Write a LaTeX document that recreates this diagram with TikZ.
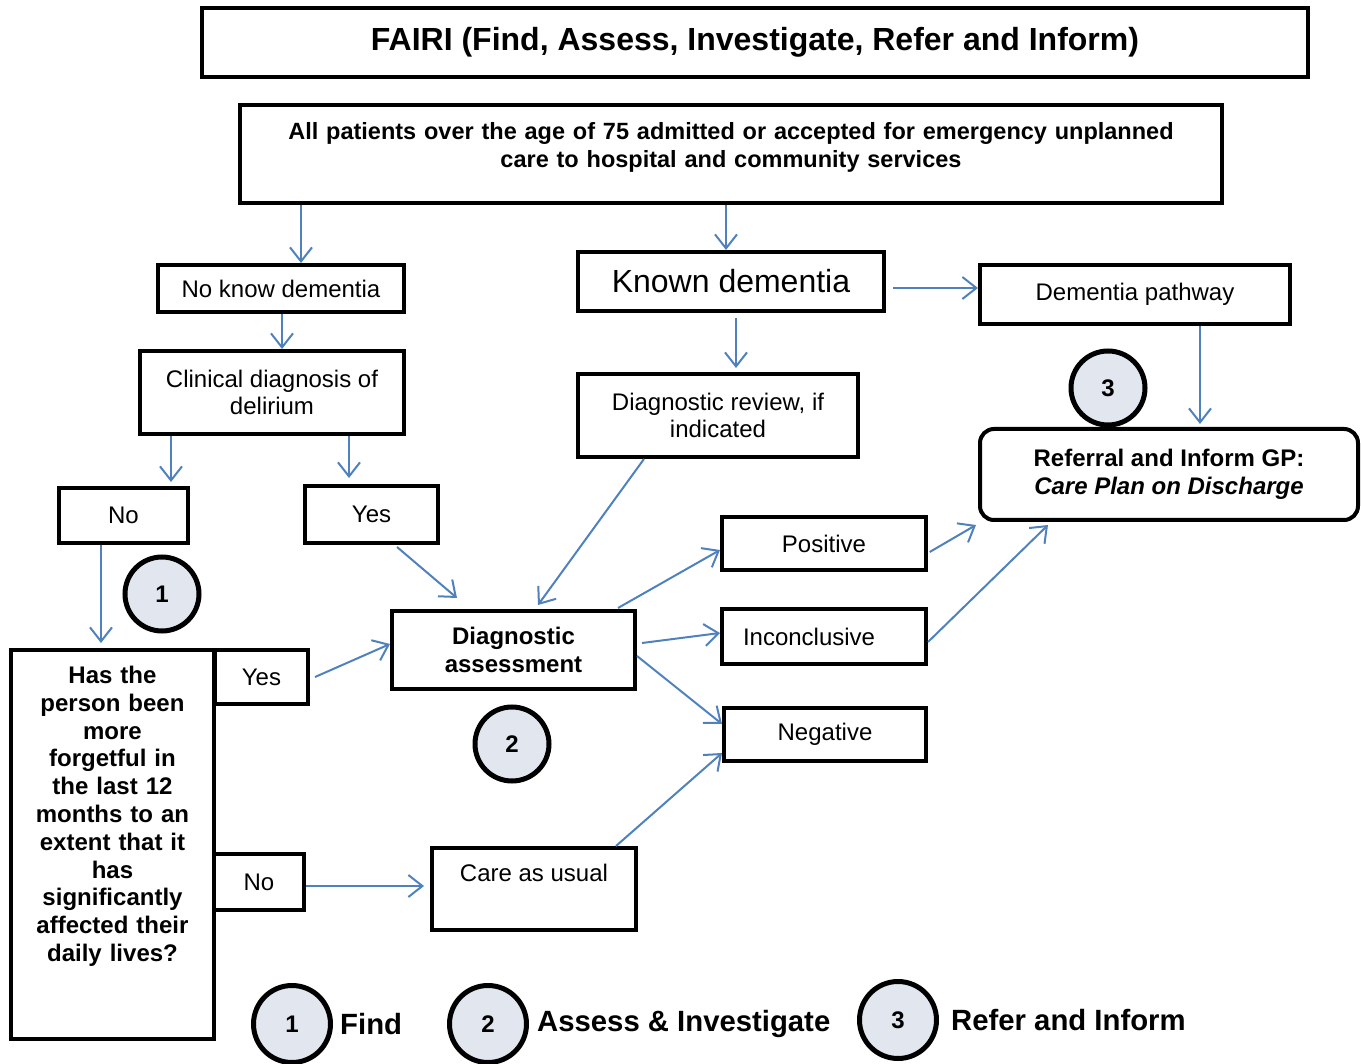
\documentclass[tikz,border=0pt]{standalone}
\usepackage{fontspec}
\setmainfont{Liberation Sans}
\usetikzlibrary{arrows.meta,positioning}
\definecolor{linkblue}{RGB}{79,129,189}
\definecolor{numfill}{RGB}{226,231,239}
\newcommand{\txt}{\fontsize{24}{27.5}\selectfont}
\newcommand{\btxt}{\fontsize{24}{28}\selectfont\bfseries}

\tikzset{
  box/.style={draw, line width=4pt, inner sep=0pt, align=center, font=\txt},
  rbox/.style={box, rounded corners=14pt},
  num/.style={circle, draw, line width=5pt, fill=numfill, minimum size=74pt, inner sep=0pt, font=\btxt},
  link/.style={linkblue, line width=2pt, -{Straight Barb[length=14pt,width=22pt]}},
  legend/.style={inner sep=0pt, font=\fontsize{29.3}{34}\selectfont\bfseries}
}

\begin{document}
\begin{tikzpicture}[x=1pt, y=-1pt]
    \useasboundingbox (0,0) rectangle (1361,1064);

    \node[box, font=\fontsize{32}{38}\selectfont\bfseries, minimum width=1106pt, minimum height=69pt] (fairi) at (755,42.5) {FAIRI (Find, Assess, Investigate, Refer and Inform)};
    \node[box, font=\fontsize{23.5}{28}\selectfont\bfseries, text width=960pt, minimum width=982pt, text height=34.3pt, text depth=63.7pt, anchor=north] (allpat) at (731,103) {All patients over the age of 75 admitted or accepted for emergency unplanned\\ care to hospital and community services};

    \node[box, minimum width=246pt, minimum height=47pt] (noknow) at (281,288.5) {No know dementia};
    \draw[link] ([xshift=20pt]noknow.north |- allpat.south) -- ([xshift=20pt]noknow.north);
    \node[box, font=\fontsize{32}{38}\selectfont, minimum width=306pt, minimum height=59pt] (known) at (731,281.5) {Known dementia};
    \draw[link] ([xshift=-5pt]known.north |- allpat.south) -- ([xshift=-5pt]known.north);
    \node[box, minimum width=310pt, minimum height=59pt] (dpath) at (1135,294.5) {Dementia pathway};
    \draw[link, shorten <=7pt] ([yshift=-6.5pt]known.east) -- ([yshift=-6.5pt]known.east -| dpath.west);

    \node[box, minimum width=264pt, minimum height=83pt] (clin) at (272,392.5) {Clinical diagnosis of\\ delirium};
    \draw[link] ([xshift=10pt]clin.north |- noknow.south) -- ([xshift=10pt]clin.north);
    \node[box, minimum width=280pt, minimum height=83pt] (review) at (718,415.5) {Diagnostic review, if\\ indicated};
    \draw[link, shorten <=5pt, shorten >=4pt] ([xshift=18pt]review.north |- known.south) -- ([xshift=18pt]review.north);
    \node[rbox, font=\btxt, minimum width=378pt, minimum height=91pt] (refer) at (1169,474.5) {Referral and Inform GP:\\ \textit{Care Plan on Discharge}};
    \draw[link, shorten >=3pt] ([xshift=31pt]refer.north |- dpath.south) -- ([xshift=31pt]refer.north);
    \node[num] (n3) at (1108,388) {3};

    \node[box, minimum width=129pt, minimum height=55pt] (no1) at (123.5,515.5) {No};
    \draw[link, shorten >=4pt] ([xshift=47.5pt]no1.north |- clin.south) -- ([xshift=47.5pt]no1.north);
    \node[box, minimum width=133pt, minimum height=57pt] (yes1) at (371.5,514.5) {Yes};
    \draw[link, shorten >=6pt] ([xshift=-22.5pt]yes1.north |- clin.south) -- ([xshift=-22.5pt]yes1.north);
    \node[num] (n1) at (162,594) {1};

    \node[box, font=\fontsize{24}{27.8}\selectfont\bfseries, text width=200pt, minimum width=203pt, text height=33.5pt, text depth=355.5pt, anchor=north] (quest) at (112.5,648) {Has the\\ person been\\ more\\ forgetful in\\ the last 12\\ months to an\\ extent that it\\ has\\ significantly\\ affected their\\ daily lives?};
    \draw[link, shorten >=5pt] ([xshift=-11.5pt]quest.north |- no1.south) -- ([xshift=-11.5pt]quest.north);
    \node[box, minimum width=93pt, minimum height=54pt] (yes2) at (261.5,677) {Yes};
    \node[box, minimum width=90pt, minimum height=56pt] (no2) at (259,882) {No};

    \node[box, font=\btxt, minimum width=243pt, minimum height=78pt] (diag) at (513.5,650) {Diagnostic\\ assessment};
    \draw[link] ([xshift=25.5pt,yshift=-2pt]yes1.south) -- ([xshift=-56.5pt,yshift=11pt]diag.north);
    \draw[link] ([xshift=-74pt]review.south) -- ([xshift=24.5pt,yshift=4pt]diag.north);
    \draw[link] ([xshift=5pt]yes2.east) -- ([yshift=6pt]diag.west);
    \node[num] (n2) at (512,744) {2};

    \node[box, minimum width=204pt, minimum height=53pt] (positive) at (824,543.5) {Positive};
    \node[box, text width=162pt, align=left, minimum width=204pt, minimum height=55pt] (incon) at (824,636.5) {Inconclusive};
    \node[box, minimum width=202pt, minimum height=53pt] (negative) at (825,734.5) {Negative};
    \node[box, minimum width=204pt, text height=33pt, text depth=49pt, anchor=north] (care) at (534,846) {Care as usual};
    \draw[link] ([xshift=-19pt,yshift=1pt]diag.north east) -- ([yshift=-6.5pt]positive.west);
    \draw[link] ([xshift=5pt,yshift=7pt]diag.east) -- ([yshift=3.5pt]incon.west);
    \draw[link] ([yshift=-6pt]diag.east) -- ([yshift=10.5pt]negative.west);
    \draw[link] ([xshift=82pt]care.north) -- ([yshift=-18.5pt]negative.west);
    \draw[link, shorten >=6pt] ([yshift=-4pt]no2.east) -- ([yshift=-4pt]no2.east -| care.west);
    \draw[link, shorten <=2pt] ([yshift=-9.5pt]positive.east) -- ([xshift=-2pt,yshift=-3pt]refer.south west);
    \draw[link] ([yshift=-5.5pt]incon.east) -- ([xshift=-121pt,yshift=-3pt]refer.south);

    \node[num, minimum size=77pt] (leg1) at (292,1024) {1};
    \node[legend, right=7pt of leg1] (find) {Find};
    \node[num, minimum size=77pt] (leg2) at (488,1024) {2};
    \node[legend, right=8pt of leg2] (assess) {Assess \& Investigate};
    \node[num, minimum size=77pt] (leg3) at (898,1020) {3};
    \node[legend, right=12pt of leg3] (inform) {Refer and Inform};
\end{tikzpicture}
\end{document}
